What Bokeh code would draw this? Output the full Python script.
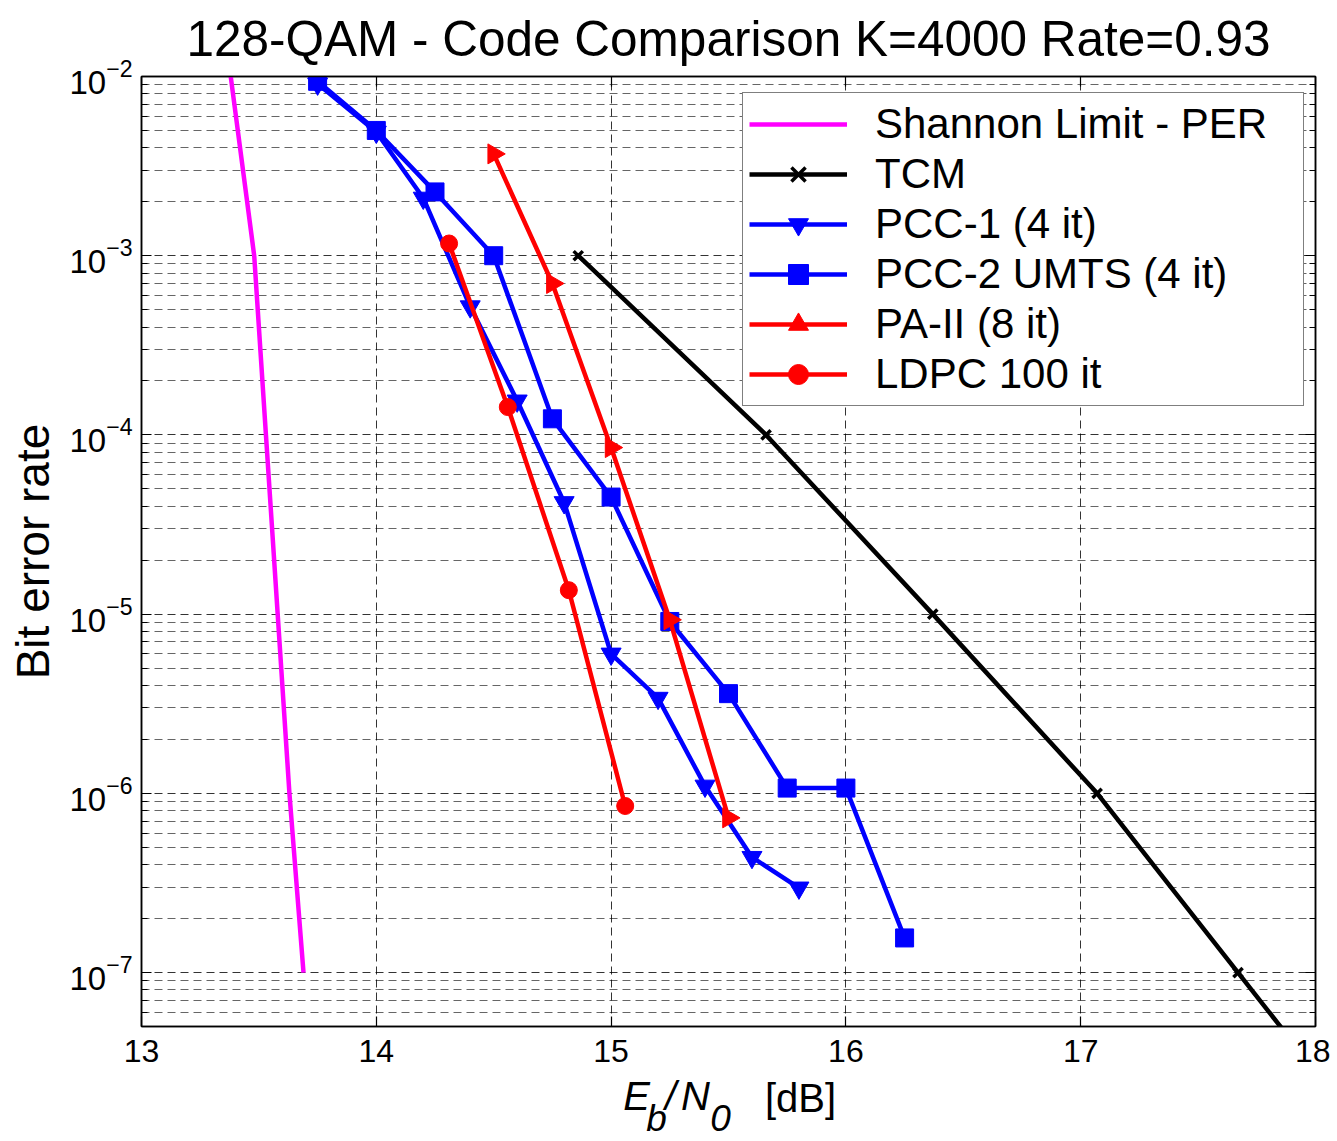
import math
from bokeh.plotting import figure
from bokeh.models import (Range1d, FixedTicker, LinearAxis, LogAxis,
                          Legend, LegendItem, CustomJSTickFormatter, AllLabels)
from bokeh.embed import file_html
from bokeh.resources import INLINE

FONT = "Liberation Sans"

# ---------------- data ----------------
title_text = "128-QAM - Code Comparison K=4000 Rate=0.93"
y_label_text = "Bit error rate"
x_label_main = ["E", "/", "N"]      # italic
x_label_subs = ["b", "0"]           # italic subscripts
x_label_unit = "[dB]"

x_ticks = [13, 14, 15, 16, 17, 18]
y_major_ticks = [1e-7, 1e-6, 1e-5, 1e-4, 1e-3, 1e-2]

shannon_x = [13.38, 13.48, 13.53, 13.58, 13.63, 13.69]
shannon_y = [1e-2, 1e-3, 1e-4, 1e-5, 1e-6, 1e-7]

tcm_x = [14.86, 15.66, 16.37, 17.07, 17.67, 18.27]
tcm_y = [1e-3, 1e-4, 1e-5, 1e-6, 1e-7, 1e-8]

pcc1_x = [13.75, 14.0, 14.2, 14.4, 14.6, 14.8, 15.0, 15.2, 15.4, 15.6, 15.8]
pcc1_y = [9.1e-3, 4.9e-3, 2.1e-3, 5.2e-4, 1.55e-4, 4.2e-5, 6.0e-6, 3.4e-6,
          1.1e-6, 4.4e-7, 2.97e-7]

pcc2_x = [13.75, 14.0, 14.25, 14.5, 14.75, 15.0, 15.25, 15.5, 15.75, 16.0, 16.25]
pcc2_y = [9.4e-3, 5.0e-3, 2.27e-3, 1.0e-3, 1.23e-4, 4.5e-5, 9.1e-6, 3.6e-6,
          1.07e-6, 1.07e-6, 1.56e-7]

pa2_x = [14.5, 14.75, 15.0, 15.25, 15.5]
pa2_y = [3.7e-3, 7.0e-4, 8.5e-5, 9.3e-6, 7.3e-7]

ldpc_x = [14.31, 14.56, 14.82, 15.06]
ldpc_y = [1.17e-3, 1.43e-4, 1.36e-5, 8.5e-7]

legend_labels = ["Shannon Limit - PER", "TCM", "PCC-1 (4 it)",
                 "PCC-2 UMTS (4 it)", "PA-II (8 it)", "LDPC 100 it"]

# minor ticks 2..9 per decade
y_minor_ticks = []
for e in range(-8, -1):
    for m in range(2, 10):
        y_minor_ticks.append(m * 10.0 ** e)

# ---------------- layout constants ----------------
FRAME_LEFT, FRAME_RIGHT = 141, 1315      # canvas pixels
X0, X1 = 13.0, 18.0


def px2x(px):
    """canvas pixel column -> data x (used only to place x-label pieces)"""
    return round(X0 + (px - FRAME_LEFT) * (X1 - X0) / (FRAME_RIGHT - FRAME_LEFT), 4)


# ---------------- figure ----------------
p = figure(width=1330, height=1141,
           x_range=Range1d(X0, X1), y_range=Range1d(5e-8, 1e-2),
           y_axis_type="log", output_backend="svg", toolbar_location=None,
           min_border_left=141, min_border_right=15,
           min_border_top=76, min_border_bottom=115,
           title=title_text)

p.background_fill_color = "white"
p.border_fill_color = "white"
p.outline_line_color = "black"
p.outline_line_width = 1.5
p.outline_line_alpha = 1.0

p.title.text_font = FONT
p.title.text_font_size = "49.5px"
p.title.text_font_style = "normal"
p.title.text_color = "black"
p.title.align = "center"
p.title.vertical_align = "top"
p.title.standoff = 18

xt = FixedTicker(ticks=x_ticks, minor_ticks=[])
yt = FixedTicker(ticks=y_major_ticks, minor_ticks=y_minor_ticks)

xa = p.below[0]
ya = p.left[0]
xa.ticker = xt
ya.ticker = yt

blank = CustomJSTickFormatter(code="return ''")
top_axis = LinearAxis(ticker=xt, formatter=blank)
right_axis = LogAxis(ticker=yt, formatter=blank)
p.add_layout(top_axis, "above")
p.add_layout(right_axis, "right")

for ax in [xa, ya, top_axis, right_axis]:
    ax.axis_line_color = "black"
    ax.axis_line_width = 1.5
    ax.major_tick_line_color = "black"
    ax.major_tick_line_width = 1.2
    ax.minor_tick_line_color = "black"
    ax.minor_tick_line_width = 1.2
    ax.major_tick_in = 10
    ax.major_tick_out = 0
    ax.minor_tick_in = 6
    ax.minor_tick_out = 0
    ax.major_label_text_font = FONT
    ax.major_label_text_color = "black"

xa.major_label_text_font_size = "32px"
xa.major_label_standoff = 13
ya.major_label_text_font_size = "33px"
ya.major_label_standoff = 9
ya.axis_label = y_label_text
ya.axis_label_text_font = FONT
ya.axis_label_text_font_size = "46px"
ya.axis_label_text_font_style = "normal"
ya.axis_label_text_color = "black"
ya.axis_label_standoff = 7

top_axis.major_label_text_font_size = "1px"
top_axis.major_label_standoff = -20
right_axis.major_label_text_font_size = "1px"
right_axis.major_label_standoff = 0

# ---------------- x-axis label "E_b/N_0 [dB]" built from label-only axes ----
main_pos = [px2x(636), px2x(670), px2x(695)]
subs_pos = [px2x(656), px2x(720)]
unit_pos = [px2x(800)]


def text_axis(ticks, labels, size, style, standoff):
    ax = LinearAxis(ticker=FixedTicker(ticks=ticks, minor_ticks=[]),
                    major_label_overrides={t: s for t, s in zip(ticks, labels)},
                    major_label_policy=AllLabels())
    ax.axis_line_color = None
    ax.major_tick_line_color = None
    ax.minor_tick_line_color = None
    ax.major_tick_in = 0
    ax.major_tick_out = 0
    ax.minor_tick_in = 0
    ax.minor_tick_out = 0
    ax.major_label_text_font = FONT
    ax.major_label_text_font_size = size
    ax.major_label_text_font_style = style
    ax.major_label_text_color = "black"
    ax.major_label_standoff = standoff
    return ax


p.add_layout(text_axis(main_pos, x_label_main, "40px", "italic", 9), "below")
p.add_layout(text_axis(unit_pos, [x_label_unit], "40px", "normal", -45), "below")
p.add_layout(text_axis(subs_pos, x_label_subs, "37px", "italic", -25), "below")

# ---------------- grid ----------------
p.xgrid.ticker = xt
p.ygrid.ticker = yt
p.xgrid.grid_line_color = "black"
p.xgrid.grid_line_alpha = 0.8
p.xgrid.grid_line_dash = "8 5"
p.xgrid.grid_line_width = 1
p.ygrid.grid_line_color = "black"
p.ygrid.grid_line_alpha = 0.8
p.ygrid.grid_line_dash = "8 5"
p.ygrid.grid_line_width = 1
p.ygrid.minor_grid_line_color = "black"
p.ygrid.minor_grid_line_alpha = 0.6
p.ygrid.minor_grid_line_dash = "8 5"
p.ygrid.minor_grid_line_width = 1

# ---------------- series ----------------
LW = 4.5
r_sh = p.line(shannon_x, shannon_y, line_color="#FF00FF", line_width=LW)

r_tcm_l = p.line(tcm_x, tcm_y, line_color="black", line_width=LW)
r_tcm_m = p.scatter(tcm_x, tcm_y, marker="x", size=13, line_color="black",
                    line_width=3.5)

r_p1_l = p.line(pcc1_x, pcc1_y, line_color="#0000FF", line_width=LW)
r_p1_m = p.scatter(pcc1_x, pcc1_y, marker="inverted_triangle", size=20,
                   fill_color="#0000FF", line_color="#0000FF")

r_p2_l = p.line(pcc2_x, pcc2_y, line_color="#0000FF", line_width=LW)
r_p2_m = p.scatter(pcc2_x, pcc2_y, marker="square", size=18,
                   fill_color="#0000FF", line_color="#0000FF")

r_pa_l = p.line(pa2_x, pa2_y, line_color="#FF0000", line_width=LW)
r_pa_m = p.scatter(pa2_x, pa2_y, marker="triangle", size=20, angle=-math.pi / 2,
                   fill_color="#FF0000", line_color="#FF0000")

r_ld_l = p.line(ldpc_x, ldpc_y, line_color="#FF0000", line_width=LW)
r_ld_m = p.scatter(ldpc_x, ldpc_y, marker="circle", size=17,
                   fill_color="#FF0000", line_color="#FF0000")

renderer_groups = [[r_sh], [r_tcm_l, r_tcm_m], [r_p1_l, r_p1_m],
                   [r_p2_l, r_p2_m], [r_pa_l, r_pa_m], [r_ld_l, r_ld_m]]
items = [LegendItem(label=lab, renderers=rs)
         for lab, rs in zip(legend_labels, renderer_groups)]

legend = Legend(items=items, location=(601, 620))
legend.label_text_font = FONT
legend.label_text_font_size = "42px"
legend.label_text_color = "black"
legend.glyph_width = 98
legend.glyph_height = 50
legend.label_height = 50
legend.label_width = 422
legend.label_standoff = 28
legend.spacing = 0
legend.padding = 6
legend.margin = 0
legend.border_line_color = "black"
legend.border_line_width = 1.5
legend.background_fill_color = "white"
legend.background_fill_alpha = 1.0
p.add_layout(legend)

open("out.html", "w").write(file_html(p, INLINE))
